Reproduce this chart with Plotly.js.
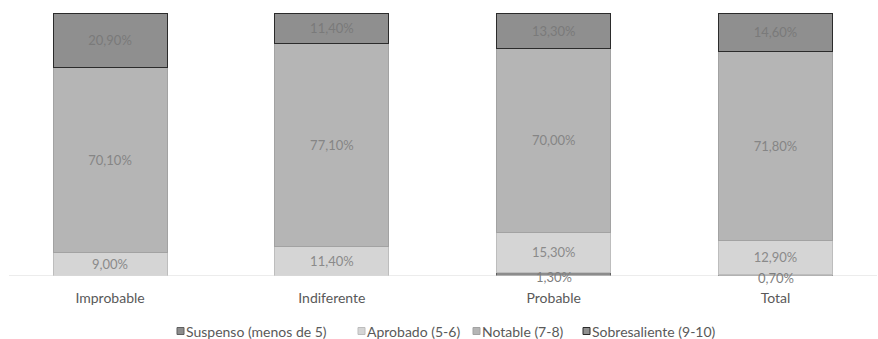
<!DOCTYPE html>
<html>
<head>
<meta charset="utf-8">
<script src="https://cdn.plot.ly/plotly-3.0.1.min.js"></script>
<style>html,body{margin:0;padding:0;background:#fff;}#chart{width:878px;height:339px;}</style>
</head>
<body>
<div id="chart"></div>
<script>
const categories = ["Improbable", "Indiferente", "Probable", "Total"];
const seriesNames = ["Suspenso (menos de 5)", "Aprobado (5-6)", "Notable (7-8)", "Sobresaliente (9-10)"];
const suspenso = [0, 0, 1.3, 0.7];
const aprobado = [9.0, 11.4, 15.3, 12.9];
const notable = [70.1, 77.1, 70.0, 71.8];
const sobresaliente = [20.9, 11.4, 13.3, 14.6];

const fills = ["#8c8c8c", "#d5d5d5", "#b5b5b5", "#8f8f8f"];
const borders = ["#5f5f5f", "#bdbdbd", "#a2a2a2", "#2b2b2b"];
const textColors = ["#7f7f7f", "#8a8a8a", "#858585", "#7a7a7a"];
const FONT = 'Lato, "Open Sans", sans-serif';

function fmt(v) { return v > 0 ? v.toFixed(2).replace('.', ',') + '%' : ''; }

const allSeries = [suspenso, aprobado, notable, sobresaliente];
const traces = allSeries.map((vals, i) => ({
  type: 'bar',
  name: seriesNames[i],
  x: categories.map((c, k) => k),
  y: vals,
  text: i === 0 ? undefined : vals.map(fmt),
  textposition: i === 0 ? 'none' : 'inside',
  insidetextanchor: 'middle',
  constraintext: 'none',
  textangle: 0,
  textfont: {family: FONT, size: 13, color: textColors[i]},
  marker: {color: fills[i], line: {color: borders[i], width: 1}},
  showlegend: false,
  hoverinfo: 'skip'
}));

const W = 878, plotTop = 13, plotBottom = 276, H = plotBottom - plotTop;
const shapes = [{type: 'line', xref: 'paper', yref: 'y', x0: 9 / W, x1: 877 / W, y0: 0, y1: 0,
                 line: {color: '#d9d9d9', width: 1}, layer: 'above'}];
const annotations = [];

// labels for the thin "Suspenso" segments (overflow below the segment, as in the original)
suspenso.forEach((v, k) => {
  if (v > 0) annotations.push({xref: 'x', yref: 'y', x: k, y: v / 2, text: fmt(v),
    showarrow: false, xanchor: 'center', yanchor: 'middle', yshift: -3, borderpad: 0,
    font: {family: FONT, size: 13, color: textColors[0]}});
});

// custom legend (Excel style: small square directly before the text)
const legendX = [177, 358, 473, 583];
const legendCY = 331;
seriesNames.forEach((n, i) => {
  const px = legendX[i];
  shapes.push({type: 'rect', xref: 'paper', yref: 'paper',
    x0: px / W, x1: (px + 7) / W,
    y0: (plotBottom - (legendCY + 3.5)) / H, y1: (plotBottom - (legendCY - 3.5)) / H,
    fillcolor: fills[i], line: {color: borders[i], width: 1}});
  annotations.push({xref: 'paper', yref: 'paper', x: (px + 8) / W, y: (plotBottom - legendCY) / H,
    xanchor: 'left', yanchor: 'middle', showarrow: false, text: n,
    font: {family: FONT, size: 14, color: '#595959'}, borderpad: 0});
});

const layout = {
  width: 878, height: 339,
  margin: {l: 0, r: 0, t: plotTop, b: 339 - plotBottom},
  barmode: 'stack',
  bargap: 0.486,
  paper_bgcolor: '#ffffff',
  plot_bgcolor: '#ffffff',
  showlegend: false,
  xaxis: {
    range: [-0.496, 3.462],
    tickmode: 'array', tickvals: [0, 1, 2, 3], ticktext: categories,
    showgrid: false, zeroline: false, showline: false,
    ticks: '', ticklabelstandoff: 12,
    tickfont: {family: FONT, size: 14, color: '#595959'},
    fixedrange: true
  },
  yaxis: {range: [0, 100], visible: false, fixedrange: true},
  shapes: shapes,
  annotations: annotations
};

Plotly.newPlot('chart', traces, layout, {displayModeBar: false, staticPlot: true});
</script>
</body>
</html>
